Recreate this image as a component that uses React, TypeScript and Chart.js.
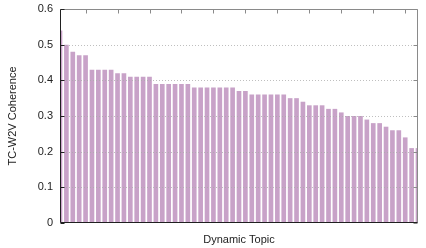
import { useEffect, useRef } from 'react';
import { Chart, registerables } from 'chart.js';

Chart.register(...registerables);

const topics = [
  '1', '2', '3', '4', '5', '6', '7', '8', '9', '10',
  '11', '12', '13', '14', '15', '16', '17', '18', '19', '20',
  '21', '22', '23', '24', '25', '26', '27', '28', '29', '30',
  '31', '32', '33', '34', '35', '36', '37', '38', '39', '40',
  '41', '42', '43', '44', '45', '46', '47', '48', '49', '50',
  '51', '52', '53', '54', '55', '56', '57',
];

const coherence = [
  0.54, 0.50, 0.48, 0.47, 0.47, 0.43, 0.43, 0.43, 0.43, 0.42,
  0.42, 0.41, 0.41, 0.41, 0.41, 0.39, 0.39, 0.39, 0.39, 0.39,
  0.39, 0.38, 0.38, 0.38, 0.38, 0.38, 0.38, 0.38, 0.37, 0.37,
  0.36, 0.36, 0.36, 0.36, 0.36, 0.36, 0.35, 0.35, 0.34, 0.33,
  0.33, 0.33, 0.32, 0.32, 0.31, 0.30, 0.30, 0.30, 0.29, 0.28,
  0.28, 0.27, 0.26, 0.26, 0.24, 0.21, 0.21,
];

const yTickValues = [0, 0.1, 0.2, 0.3, 0.4, 0.5, 0.6];
const gridValues = [0.1, 0.2, 0.3, 0.4, 0.5];
const topTickTopics = ['5', '10', '15', '20', '25', '30', '35', '40', '45', '50', '55'];

const xTitle = 'Dynamic Topic';
const yTitle = 'TC-W2V Coherence';

const FONT = '"Liberation Sans", Arial, Helvetica, sans-serif';

const framePlugin = {
  id: 'gnuframe',
  afterDatasetsDraw(chart: any) {
    const { ctx, chartArea: a, scales } = chart;
    const y = scales.y;
    ctx.save();
    ctx.strokeStyle = 'rgba(170,170,170,0.75)';
    ctx.lineWidth = 1;
    ctx.setLineDash([1, 2]);
    for (const v of gridValues) {
      const py = Math.round(y.getPixelForValue(v)) + 0.5;
      ctx.beginPath();
      ctx.moveTo(a.left, py);
      ctx.lineTo(a.right, py);
      ctx.stroke();
    }
    ctx.restore();
  },
  afterDraw(chart: any) {
    const { ctx, chartArea: a, scales } = chart;
    const x = scales.x;
    const y = scales.y;
    const L = Math.round(a.left) + 0.5;
    const R = Math.round(a.right) - 0.5;
    const T = Math.round(a.top) + 0.5;
    const B = Math.round(a.bottom) - 0.5;
    ctx.save();
    ctx.setLineDash([]);
    ctx.lineWidth = 1;
    ctx.strokeStyle = '#8a8a8a';
    ctx.beginPath();
    ctx.moveTo(L, T);
    ctx.lineTo(R, T);
    ctx.lineTo(R, B);
    ctx.stroke();
    for (const t of topTickTopics) {
      const px = Math.round(x.getPixelForValue(topics.indexOf(t))) + 0.5;
      ctx.beginPath();
      ctx.moveTo(px, T);
      ctx.lineTo(px, T + 4);
      ctx.stroke();
    }
    for (const v of yTickValues) {
      const py = Math.round(y.getPixelForValue(v)) + 0.5;
      ctx.beginPath();
      ctx.moveTo(R, py);
      ctx.lineTo(R - 4, py);
      ctx.stroke();
    }
    ctx.strokeStyle = '#202020';
    ctx.beginPath();
    ctx.moveTo(L, T);
    ctx.lineTo(L, B);
    ctx.lineTo(R, B);
    ctx.stroke();
    for (const v of yTickValues) {
      const py = Math.round(y.getPixelForValue(v)) + 0.5;
      ctx.beginPath();
      ctx.moveTo(L, py);
      ctx.lineTo(L + 4, py);
      ctx.stroke();
    }
    ctx.fillStyle = '#222';
    ctx.font = `11px ${FONT}`;
    ctx.textAlign = 'center';
    ctx.textBaseline = 'middle';
    ctx.fillText(xTitle, (a.left + a.right) / 2, 240);
    ctx.translate(13, (a.top + a.bottom) / 2);
    ctx.rotate(-Math.PI / 2);
    ctx.fillText(yTitle, 0, 0);
    ctx.restore();
  },
};

export default function App() {
  const ref = useRef<HTMLCanvasElement | null>(null);
  useEffect(() => {
    document.body.style.margin = '0';
    const canvas = ref.current;
    if (!canvas) return;
    const chart = new Chart(canvas, {
      type: 'bar',
      data: {
        labels: topics,
        datasets: [
          {
            data: coherence,
            backgroundColor: '#c8a2c8',
            borderWidth: 0,
            barPercentage: 0.73,
            categoryPercentage: 1,
            clip: 0,
          } as any,
        ],
      },
      options: {
        animation: false,
        responsive: false,
        devicePixelRatio: 1,
        layout: { padding: { left: 0, right: 8, top: 9, bottom: 25 } },
        plugins: { legend: { display: false }, tooltip: { enabled: false } },
        scales: {
          x: {
            type: 'category',
            display: false,
            offset: false,
            grid: { display: false },
          },
          y: {
            min: 0,
            max: 0.6,
            afterFit: (s: any) => {
              s.width = 60;
              s.paddingTop = 0;
              s.paddingBottom = 0;
            },
            afterBuildTicks: (s: any) => {
              s.ticks = yTickValues.map((v) => ({ value: v }));
            },
            grid: { display: false, drawTicks: false },
            border: { display: false },
            ticks: {
              padding: 7,
              color: '#222',
              font: { family: FONT, size: 11 },
              callback: (v: any) => (Number(v) === 0 ? '0' : Number(v).toFixed(1)),
            },
          },
        },
      },
      plugins: [framePlugin],
    });
    return () => chart.destroy();
  }, []);
  return (
    <div style={{ width: 426, height: 248 }}>
      <canvas ref={ref} width={426} height={248} />
    </div>
  );
}
